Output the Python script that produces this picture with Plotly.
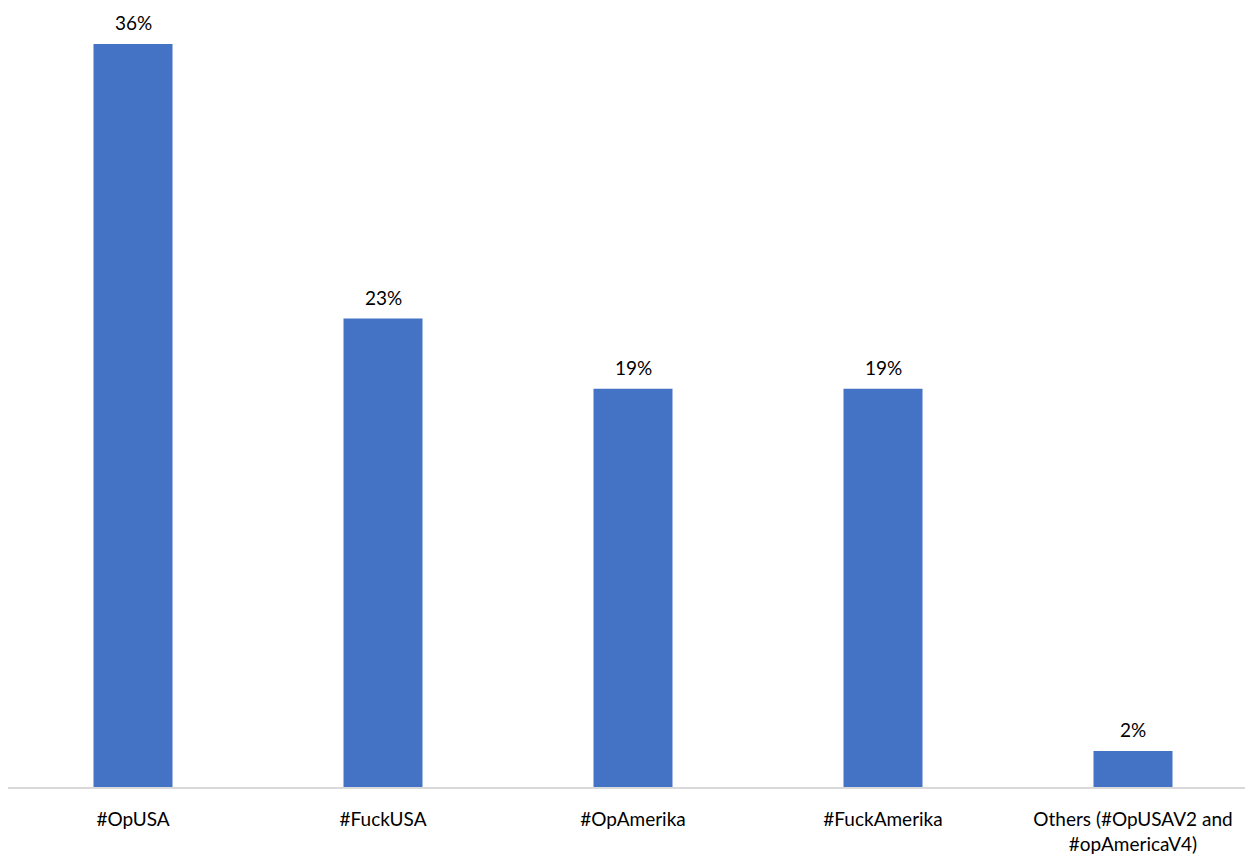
import plotly.graph_objects as go

categories = ["#OpUSA", "#FuckUSA", "#OpAmerika", "#FuckAmerika", "Others (#OpUSAV2 and<br>#opAmericaV4)"]
values = [36, 22.7, 19.3, 19.3, 1.75]
labels = ["36%", "23%", "19%", "19%", "2%"]

FONT = "Lato"
fig = go.Figure(go.Bar(
    x=categories, y=values,
    marker=dict(color="#4472C4", line=dict(width=0)),
    width=0.316, cliponaxis=False,
))
for c, v, t in zip(categories, values, labels):
    fig.add_annotation(x=c, y=v, text=t, showarrow=False, yanchor="bottom",
                       yshift=8, font=dict(family=FONT, size=19, color="#000000"))
fig.update_layout(
    width=1245, height=855,
    margin=dict(l=0, r=0, t=0, b=76),
    plot_bgcolor="white", paper_bgcolor="white",
    showlegend=False,
    font=dict(family=FONT, size=19, color="#000000"),
)
fig.update_xaxes(range=[-0.5, 4.48], showline=True, linecolor="#d9d9d9", linewidth=2,
                 ticks="", showgrid=False, tickfont=dict(size=19), ticklabelstandoff=14)
fig.update_yaxes(range=[0, 36 * 779 / 743], visible=False, showgrid=False)
fig.write_html("out.html")
